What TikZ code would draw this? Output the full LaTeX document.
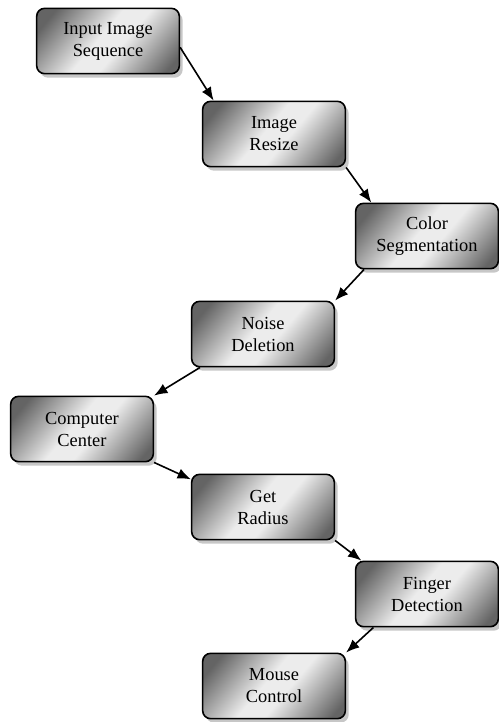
\documentclass[tikz,border=0pt]{standalone}
\usepackage{fontspec}
\setmainfont{Liberation Serif}
\usetikzlibrary{positioning}
\usetikzlibrary{arrows.meta}
\usetikzlibrary{shadows}
\definecolor{boxdark}{RGB}{100,100,100}
\definecolor{boxlight}{RGB}{236,236,236}
\pgfdeclarehorizontalshading{boxshade}{100bp}{color(0bp)=(boxdark); color(22bp)=(boxdark); color(46bp)=(boxlight); color(56bp)=(boxlight); color(80bp)=(boxdark); color(100bp)=(boxdark)}
\tikzstyle{step box} = [draw, line width=1.2pt, rounded corners=6pt, minimum width=107pt, minimum height=49pt, align=center, font=\fontsize{13.8}{16.5}\selectfont, shading=boxshade, shading angle=-40, drop shadow={shadow xshift=2.5pt, shadow yshift=-3pt, opacity=1, fill=black!22}]
\tikzstyle{link} = [-{Latex[length=10pt,width=8pt]}, line width=1.2pt, draw]

\begin{document}
\begin{tikzpicture}[x=0.75pt, y=-0.75pt]
                    \useasboundingbox (0,0) rectangle (499,722);
                    \node[step box] (input) at (108,41) {Input Image\\Sequence};
                    \node[step box] (resize) at (274,134) {Image\\Resize};
                    \node[step box] (segment) at (427,236) {Color\\Segmentation};
                    \node[step box] (noise) at (263,334) {Noise\\Deletion};
                    \node[step box] (center) at (82,429) {Computer\\Center};
                    \node[step box] (radius) at (263,507) {Get\\Radius};
                    \node[step box] (finger) at (427,594) {Finger\\Detection};
                    \node[step box] (mouse) at (274,686) {Mouse\\Control};

                    \draw[link] (input.-5) -- (resize.151);
                    \draw[link] (resize.south east) -- (segment.149);
                    \draw[link] (segment.208) -- (noise.north east);
                    \draw[link] (noise.208) -- (center.north east);
                    \draw[link] (center.south east) -- (radius.159);
                    \draw[link] (radius.south east) -- (finger.153);
                    \draw[link] (finger.212) -- (mouse.north east);
                \end{tikzpicture}
\end{document}
